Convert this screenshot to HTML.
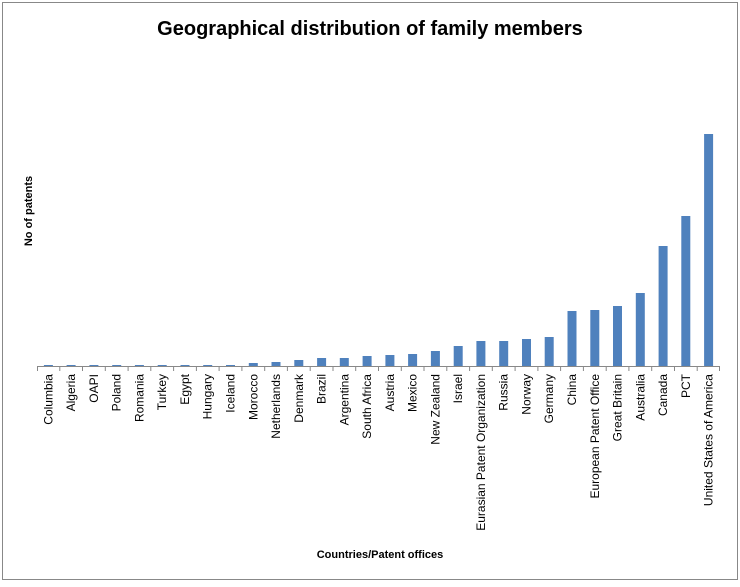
<!DOCTYPE html>
<html><head><style>
body{margin:0;background:#fff;}
svg text{font-family:"Liberation Sans",sans-serif;}
</style></head><body>
<svg width="740" height="582" xmlns="http://www.w3.org/2000/svg">
<rect x="0" y="0" width="740" height="582" fill="#fff"/>
<rect x="2.5" y="2.5" width="735" height="577" fill="none" stroke="#888" stroke-width="1"/>
<text x="370" y="35" text-anchor="middle" font-size="20" font-weight="bold">Geographical distribution of family members</text>
<text transform="translate(32,211) rotate(-90)" text-anchor="middle" font-size="11" font-weight="bold">No of patents</text>
<text x="380" y="558" text-anchor="middle" font-size="11" font-weight="bold">Countries/Patent offices</text>
<g fill="#4f81bd">
<rect x="43.9" y="365" width="9" height="1"/>
<rect x="66.6" y="365" width="9" height="1"/>
<rect x="89.4" y="365" width="9" height="1"/>
<rect x="112.2" y="365" width="9" height="1"/>
<rect x="134.9" y="365" width="9" height="1"/>
<rect x="157.7" y="365" width="9" height="1"/>
<rect x="180.5" y="365" width="9" height="1"/>
<rect x="203.2" y="365" width="9" height="1"/>
<rect x="226" y="365" width="9" height="1"/>
<rect x="248.8" y="363" width="9" height="3"/>
<rect x="271.5" y="362" width="9" height="4"/>
<rect x="294.3" y="360" width="9" height="6"/>
<rect x="317.1" y="358" width="9" height="8"/>
<rect x="339.8" y="358" width="9" height="8"/>
<rect x="362.6" y="356" width="9" height="10"/>
<rect x="385.4" y="355" width="9" height="11"/>
<rect x="408.1" y="354" width="9" height="12"/>
<rect x="430.9" y="351" width="9" height="15"/>
<rect x="453.7" y="346" width="9" height="20"/>
<rect x="476.4" y="341" width="9" height="25"/>
<rect x="499.2" y="341" width="9" height="25"/>
<rect x="522" y="339" width="9" height="27"/>
<rect x="544.7" y="337" width="9" height="29"/>
<rect x="567.5" y="311" width="9" height="55"/>
<rect x="590.3" y="310" width="9" height="56"/>
<rect x="613" y="306" width="9" height="60"/>
<rect x="635.8" y="293" width="9" height="73"/>
<rect x="658.6" y="246" width="9" height="120"/>
<rect x="681.3" y="216" width="9" height="150"/>
<rect x="704.1" y="134" width="9" height="232"/>
</g>
<line x1="37" y1="366.5" x2="720" y2="366.5" stroke="#888"/>
<g stroke="#888">
<line x1="37.5" y1="366" x2="37.5" y2="371"/><line x1="59.8" y1="366" x2="59.8" y2="371"/><line x1="82.5" y1="366" x2="82.5" y2="371"/><line x1="105.3" y1="366" x2="105.3" y2="371"/><line x1="128.1" y1="366" x2="128.1" y2="371"/><line x1="150.8" y1="366" x2="150.8" y2="371"/><line x1="173.6" y1="366" x2="173.6" y2="371"/><line x1="196.4" y1="366" x2="196.4" y2="371"/><line x1="219.1" y1="366" x2="219.1" y2="371"/><line x1="241.9" y1="366" x2="241.9" y2="371"/><line x1="264.7" y1="366" x2="264.7" y2="371"/><line x1="287.4" y1="366" x2="287.4" y2="371"/><line x1="310.2" y1="366" x2="310.2" y2="371"/><line x1="333" y1="366" x2="333" y2="371"/><line x1="355.7" y1="366" x2="355.7" y2="371"/><line x1="378.5" y1="366" x2="378.5" y2="371"/><line x1="401.3" y1="366" x2="401.3" y2="371"/><line x1="424" y1="366" x2="424" y2="371"/><line x1="446.8" y1="366" x2="446.8" y2="371"/><line x1="469.6" y1="366" x2="469.6" y2="371"/><line x1="492.3" y1="366" x2="492.3" y2="371"/><line x1="515.1" y1="366" x2="515.1" y2="371"/><line x1="537.9" y1="366" x2="537.9" y2="371"/><line x1="560.6" y1="366" x2="560.6" y2="371"/><line x1="583.4" y1="366" x2="583.4" y2="371"/><line x1="606.2" y1="366" x2="606.2" y2="371"/><line x1="628.9" y1="366" x2="628.9" y2="371"/><line x1="651.7" y1="366" x2="651.7" y2="371"/><line x1="674.5" y1="366" x2="674.5" y2="371"/><line x1="697.2" y1="366" x2="697.2" y2="371"/><line x1="719.5" y1="366" x2="719.5" y2="371"/>
</g>
<g font-size="12" text-anchor="end">
<text transform="translate(52.4,374) rotate(-90)">Columbia</text>
<text transform="translate(75.1,374) rotate(-90)">Algeria</text>
<text transform="translate(97.9,374) rotate(-90)">OAPI</text>
<text transform="translate(120.7,374) rotate(-90)">Poland</text>
<text transform="translate(143.4,374) rotate(-90)">Romania</text>
<text transform="translate(166.2,374) rotate(-90)">Turkey</text>
<text transform="translate(189,374) rotate(-90)">Egypt</text>
<text transform="translate(211.7,374) rotate(-90)">Hungary</text>
<text transform="translate(234.5,374) rotate(-90)">Iceland</text>
<text transform="translate(257.3,374) rotate(-90)">Morocco</text>
<text transform="translate(280,374) rotate(-90)">Netherlands</text>
<text transform="translate(302.8,374) rotate(-90)">Denmark</text>
<text transform="translate(325.6,374) rotate(-90)">Brazil</text>
<text transform="translate(348.3,374) rotate(-90)">Argentina</text>
<text transform="translate(371.1,374) rotate(-90)">South Africa</text>
<text transform="translate(393.9,374) rotate(-90)">Austria</text>
<text transform="translate(416.6,374) rotate(-90)">Mexico</text>
<text transform="translate(439.4,374) rotate(-90)">New Zealand</text>
<text transform="translate(462.2,374) rotate(-90)">Israel</text>
<text transform="translate(484.9,374) rotate(-90)">Eurasian Patent Organization</text>
<text transform="translate(507.7,374) rotate(-90)">Russia</text>
<text transform="translate(530.5,374) rotate(-90)">Norway</text>
<text transform="translate(553.2,374) rotate(-90)">Germany</text>
<text transform="translate(576,374) rotate(-90)">China</text>
<text transform="translate(598.8,374) rotate(-90)">European Patent Office</text>
<text transform="translate(621.5,374) rotate(-90)">Great Britain</text>
<text transform="translate(644.3,374) rotate(-90)">Australia</text>
<text transform="translate(667.1,374) rotate(-90)">Canada</text>
<text transform="translate(689.8,374) rotate(-90)">PCT</text>
<text transform="translate(712.6,374) rotate(-90)">United States of America</text>
</g>
</svg>
</body></html>
